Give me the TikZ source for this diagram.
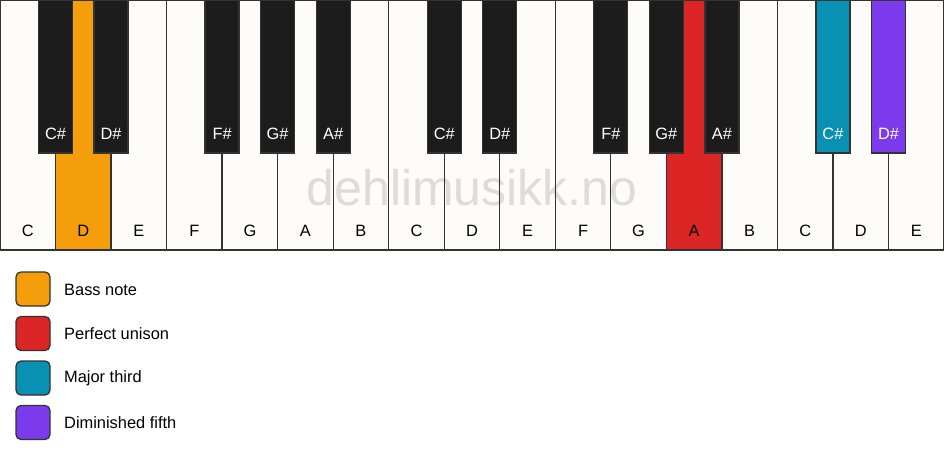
\documentclass[tikz,border=0pt]{standalone}
\usepackage{fontspec}
\setmainfont{Liberation Sans}
\definecolor{keywhite}{HTML}{FDFCF9}
\definecolor{keyblack}{HTML}{1C1C1C}
\definecolor{keyline}{HTML}{333333}
\definecolor{cbass}{HTML}{F59E0B}
\definecolor{cunison}{HTML}{DC2626}
\definecolor{cthird}{HTML}{0891B2}
\definecolor{cfifth}{HTML}{7C3AED}
\definecolor{wmark}{HTML}{DCDCDC}
\begin{document}
\begin{tikzpicture}[x=1pt,y=-1pt,
  whitekey/.style={draw=keyline,line width=1.3pt},
  blackkey/.style={draw=keyline,line width=1.3pt},
  wlabel/.style={font=\fontsize{16.4}{16}\selectfont,text=black,inner sep=0pt},
  blabel/.style={font=\fontsize{16.4}{16}\selectfont,text=white,inner sep=0pt},
  legbox/.style={draw=keyline,line width=1.3pt,rounded corners=5pt,minimum width=34pt,minimum height=34pt,inner sep=0pt},
  legtext/.style={font=\fontsize{16.4}{16}\selectfont,anchor=west,inner sep=0pt}]
\useasboundingbox (0,0) rectangle (944,461);
\fill[white] (0,0) rectangle (944,461);
\def\kw{55.5294}
% white keys fill
\foreach \n [count=\i from 0] in {C,D,E,F,G,A,B,C,D,E,F,G,A,B,C,D,E}{
  \pgfmathsetmacro{\xa}{\i*\kw}
  \pgfmathsetmacro{\xb}{(\i+1)*\kw}
  \ifnum\i=1 \def\fc{cbass}\else\ifnum\i=12 \def\fc{cunison}\else\def\fc{keywhite}\fi\fi
  \fill[\fc] (\xa,0) rectangle (\xb,250);
}
% watermark
\node[font=\fontsize{50}{50}\selectfont,text=wmark,anchor=base,inner sep=0pt] (wm) at (472,205) {dehlimusikk.no};
% white keys outline + labels
\foreach \n [count=\i from 0] in {C,D,E,F,G,A,B,C,D,E,F,G,A,B,C,D,E}{
  \pgfmathsetmacro{\xa}{\i*\kw}
  \pgfmathsetmacro{\xb}{(\i+1)*\kw}
  \pgfmathsetmacro{\xc}{(\i+0.5)*\kw}
  \draw[whitekey] (\xa,0) rectangle (\xb,250);
  \node[wlabel,anchor=base] (w\i) at (\xc,236) {\n};
}
% black keys
\foreach \b/\n/\c in {1/C\#/keyblack,2/D\#/keyblack,4/F\#/keyblack,5/G\#/keyblack,6/A\#/keyblack,
                      8/C\#/keyblack,9/D\#/keyblack,11/F\#/keyblack,12/G\#/keyblack,13/A\#/keyblack,
                      15/C\#/cthird,16/D\#/cfifth}{
  \pgfmathsetmacro{\xm}{\b*\kw}
  \draw[blackkey,fill=\c] (\xm-17,0) rectangle (\xm+17,153);
  \node[blabel,anchor=base] (b\b) at (\xm,139) {\n};
}
% legend
\node[legbox,fill=cbass] (l1) at (33,289) {};
\node[legtext] (t1) at (64,289.5) {Bass note};
\node[legbox,fill=cunison] (l2) at (33,333.5) {};
\node[legtext] (t2) at (64,334) {Perfect unison};
\node[legbox,fill=cthird] (l3) at (33,378) {};
\node[legtext] (t3) at (64,378.5) {Major third};
\node[legbox,fill=cfifth] (l4) at (33,422.5) {};
\node[legtext] (t4) at (64,423) {Diminished fifth};
\end{tikzpicture}
\end{document}
